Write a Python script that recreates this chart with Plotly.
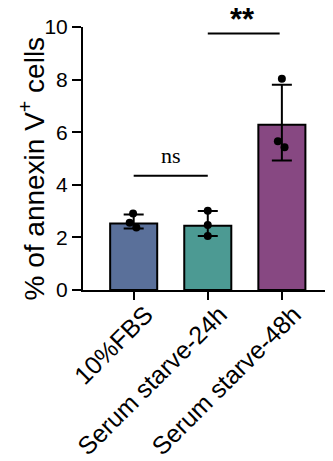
import plotly.graph_objects as go

categories = ["10%FBS", "Serum starve-24h", "Serum starve-48h"]
means = [2.53, 2.44, 6.28]
err_up = [0.34, 0.56, 1.52]
err_down = [0.19, 0.39, 1.36]
colors = ["#5a709a", "#4c9a93", "#874882"]

pt_group = [0, 0, 0, 1, 1, 1, 2, 2, 2]
pt_jitter = [-0.008, -0.054, 0.036, 0.0, 0.0, 0.0, 0.0, -0.054, 0.036]
pt_values = [2.91, 2.56, 2.38, 3.01, 2.47, 2.05, 8.03, 5.66, 5.43]

sig_pairs = [(0, 1), (1, 2)]
sig_labels = ["ns", "**"]
sig_line_y = [4.34, 9.75]

xs = list(range(len(categories)))

fig = go.Figure()
fig.add_trace(go.Bar(
    x=xs, y=means, width=0.635,
    marker=dict(color=colors, line=dict(color="black", width=2)),
    error_y=dict(type="data", symmetric=False, array=err_up, arrayminus=err_down,
                 color="black", thickness=2, width=10),
    showlegend=False,
))
fig.add_trace(go.Scatter(
    x=[g + j for g, j in zip(pt_group, pt_jitter)], y=pt_values,
    mode="markers", marker=dict(color="black", size=8),
    showlegend=False, cliponaxis=False,
))

for (a, b), lab, ly in zip(sig_pairs, sig_labels, sig_line_y):
    fig.add_shape(type="line", x0=a, x1=b - 0.03 if lab == "**" else b, y0=ly, y1=ly,
                  xref="x", yref="y", line=dict(color="black", width=2))
    if lab == "ns":
        fig.add_annotation(x=(a + b) / 2, y=ly, yref="y", xref="x", text="ns",
                           showarrow=False, yanchor="bottom", yshift=6,
                           font=dict(family="Liberation Serif", size=22, color="black"))
    else:
        fig.add_annotation(x=(a + b) / 2 - 0.03, y=ly, yref="y", xref="x", text="<b>**</b>",
                           showarrow=False, yanchor="top", yshift=34,
                           font=dict(family="Liberation Sans", size=31, color="black"))

fig.add_annotation(
    x=-0.2, y=0.462, xref="paper", yref="paper", textangle=-90,
    text="% of annexin V<sup>+</sup> cells", showarrow=False,
    xanchor="center", yanchor="middle",
    font=dict(size=28, family="Liberation Sans", color="black"),
)

fig.update_layout(
    width=325, height=453,
    margin=dict(l=75, r=0, t=19, b=171),
    plot_bgcolor="white", paper_bgcolor="white",
    font=dict(family="Liberation Sans", color="black"),
    bargap=0.3,
)
fig.update_xaxes(
    range=[-0.684, 2.69], tickvals=xs, ticktext=categories, tickangle=-45,
    showline=True, linecolor="black", linewidth=2,
    ticks="outside", ticklen=8, tickwidth=2, tickcolor="black", automargin=False,
    ticklabelstandoff=-10, ticklabelshift=12,
    tickfont=dict(size=25, family="Liberation Sans"), showgrid=False, zeroline=False,
)
fig.update_yaxes(
    range=[0, 10], tickvals=[0, 2, 4, 6, 8, 10],
    showline=True, linecolor="black", linewidth=2, automargin=False,
    ticks="outside", ticklen=9, tickwidth=2, tickcolor="black",
    tickfont=dict(size=21, family="Liberation Sans"), showgrid=False, zeroline=False,
)

fig.write_html("out.html")
